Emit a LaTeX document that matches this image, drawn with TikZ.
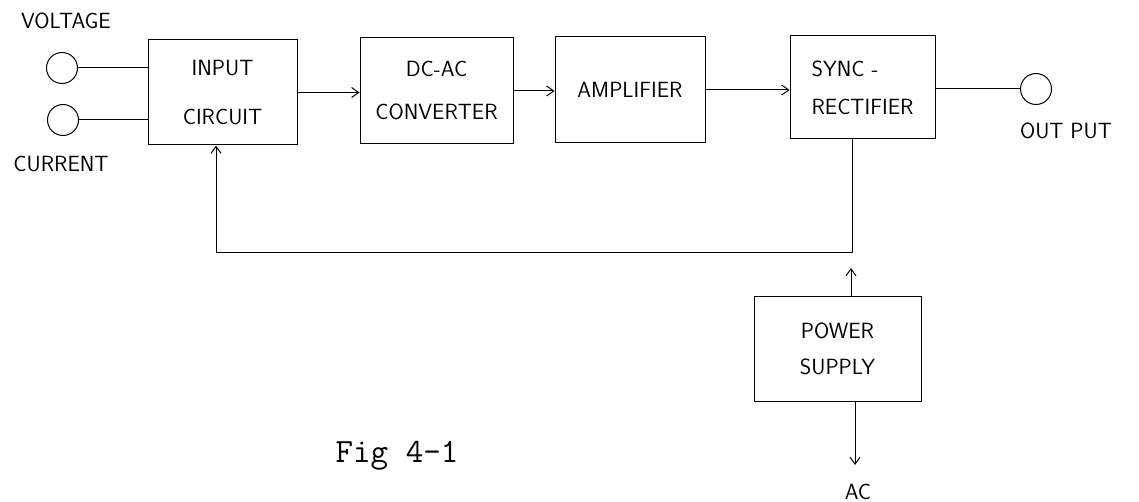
\documentclass[tikz,border=0pt]{standalone}
\usepackage{tikz}
\usetikzlibrary{arrows.meta}
\begin{document}
\begin{tikzpicture}[x=1pt,y=-1pt,line width=1pt,
    >={Straight Barb[length=7pt,width=10pt]},
    every node/.style={font=\sffamily\fontsize{22}{26}\selectfont},
    block/.style={draw,inner sep=0pt,align=center},
    term/.style={draw,circle,inner sep=0pt,minimum size=31pt}]
    \useasboundingbox (0,0) rectangle (1139,502);
    % terminals
    \node[term] (vin) at (62,68) {};
    \node[term] (cin) at (63,120) {};
    \node[term] (out) at (1036,89) {};
    \node (vlab) at (66,21) {VOLTAGE};
    \node (clab) at (61,164) {CURRENT};
    \node (olab) at (1066,131) {OUT PUT};
    % blocks
    \node[block,minimum width=149pt,minimum height=105pt] (input) at (222.5,92.5) {INPUT\\[23pt]CIRCUIT};
    \node[block,minimum width=153pt,minimum height=106pt] (dcac) at (436.5,91) {DC-AC\\[17pt]CONVERTER};
    \node[block,minimum width=150pt,minimum height=106pt] (amp) at (630,90) {AMPLIFIER};
    \node[block,minimum width=145pt,minimum height=103pt,align=left] (sync) at (862.5,87.5) {SYNC -\\[12pt]RECTIFIER};
    \node[block,minimum width=167pt,minimum height=105pt] (ps) at (837.5,348.5) {POWER\\[10pt]SUPPLY};
    \node (ac) at (858,492) {AC};
    \node (fig) at (397,456) {\ttfamily\fontsize{34}{38}\selectfont Fig 4-1};
    % connections
    \draw (vin.east) -- (vin -| input.west);
    \draw (cin.east) -- (cin -| input.west);
    \draw[->] (input.east) -- (input.east -| dcac.west);
    \draw[->] (dcac.east) -- (dcac.east -| amp.west);
    \draw[->] (amp.east) -- (amp.east -| sync.west);
    \draw (sync.east |- out) -- (out.west);
    \coordinate (fbR) at (852,253);
    \coordinate (fbL) at (216,253);
    \draw[->] (sync.south -| fbR) -- (fbR) -- (fbL) -- (input.south -| fbL);
    \coordinate (psup) at (851,268);
    \coordinate (psdn) at (855,465);
    \draw[->] (ps.north -| psup) -- (psup);
    \draw[->] (ps.south -| psdn) -- (psdn);
\end{tikzpicture}
\end{document}
